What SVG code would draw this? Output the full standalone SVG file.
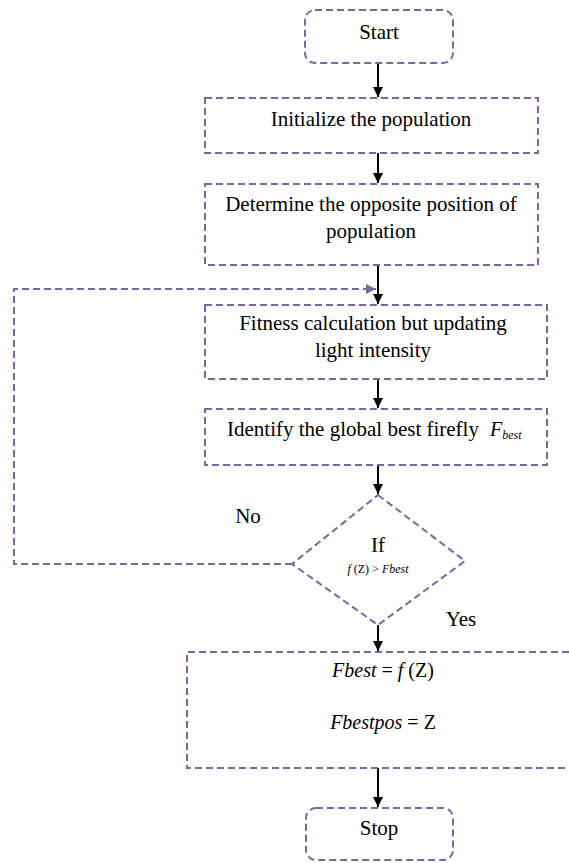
<svg xmlns="http://www.w3.org/2000/svg" width="569" height="863" viewBox="0 0 569 863">
<defs>
<marker id="ah" viewBox="0 0 10 10" refX="10" refY="5" markerWidth="10" markerHeight="10" markerUnits="userSpaceOnUse" orient="auto"><path d="M0,0 L10,5 L0,10 z" fill="#000"/></marker>
<marker id="ahp" viewBox="0 0 10 10" refX="10" refY="5" markerWidth="10" markerHeight="10" markerUnits="userSpaceOnUse" orient="auto"><path d="M0,0 L10,5 L0,10 z" fill="#8064A2"/></marker>
</defs>
<style>
.b{fill:#fff;stroke:#8064A2;stroke-width:2;stroke-dasharray:7,4}
.t{font-family:"Liberation Serif","Times New Roman",serif;font-size:21px;fill:#000;text-anchor:middle}
.i{font-family:"Liberation Serif","Times New Roman",serif;font-style:italic;fill:#000}
.u{font-style:normal}
.a{stroke:#000;stroke-width:2;fill:none;marker-end:url(#ah)}
.l{stroke:#8064A2;stroke-width:2;stroke-dasharray:7,4;fill:none}
</style>
<rect width="569" height="863" fill="#fff"/>
<g id="connectors">
<line class="a" x1="378" y1="63" x2="378" y2="97"/>
<line class="a" x1="378" y1="153" x2="378" y2="183"/>
<line class="a" x1="378" y1="265" x2="378" y2="304"/>
<line class="a" x1="378" y1="379" x2="378" y2="408"/>
<line class="a" x1="378" y1="465" x2="378" y2="494"/>
<line class="a" x1="378" y1="625" x2="378" y2="651"/>
<line class="a" x1="378" y1="768" x2="378" y2="807"/>
<path class="l" d="M292,564 L14,564 L14,289 L368,289"/>
<path d="M367,289 L376,289" stroke="#8064A2" stroke-width="2" marker-end="url(#ahp)"/>
</g>
<g id="start">
<rect class="b" x="305" y="10" width="148" height="53" rx="10"/>
<text class="t" x="379" y="39">Start</text>
</g>
<g id="init">
<rect class="b" x="205" y="98" width="333" height="55"/>
<text class="t" x="371" y="126">Initialize the population</text>
</g>
<g id="opposite">
<rect class="b" x="205" y="184" width="333" height="81"/>
<text class="t" x="371" y="211">Determine the opposite position of</text>
<text class="t" x="371" y="238">population</text>
</g>
<g id="fitness">
<rect class="b" x="205" y="305" width="342" height="74"/>
<text class="t" x="373" y="330">Fitness calculation but updating</text>
<text class="t" x="373" y="357">light intensity</text>
</g>
<g id="identify">
<rect class="b" x="205" y="409" width="342" height="56"/>
<text class="t" x="353" y="436">Identify the global best firefly</text>
<text class="i" x="490" y="436" font-size="20">F<tspan font-size="12" dy="3">best</tspan></text>
</g>
<g id="decision">
<polygon class="b" points="378,495 465,561 378,625 292,564"/>
<text class="t" x="378" y="552">If</text>
<text class="i" x="378" y="573" font-size="12" text-anchor="middle">f <tspan class="u">(Z) &gt; </tspan>Fbest</text>
</g>
<g id="labels">
<text class="t" x="248" y="523">No</text>
<text class="t" x="461" y="626">Yes</text>
</g>
<g id="update">
<path class="b" d="M569,652 L187,652 L187,768 L569,768"/>
<text class="i" x="383" y="677" font-size="20" text-anchor="middle">Fbest <tspan class="u">= </tspan>f <tspan class="u">(Z)</tspan></text>
<text class="i" x="383" y="729" font-size="20" text-anchor="middle">Fbestpos <tspan class="u">= Z</tspan></text>
</g>
<g id="stop">
<rect class="b" x="306" y="808" width="147" height="52" rx="10"/>
<text class="t" x="379" y="835">Stop</text>
</g>
</svg>
